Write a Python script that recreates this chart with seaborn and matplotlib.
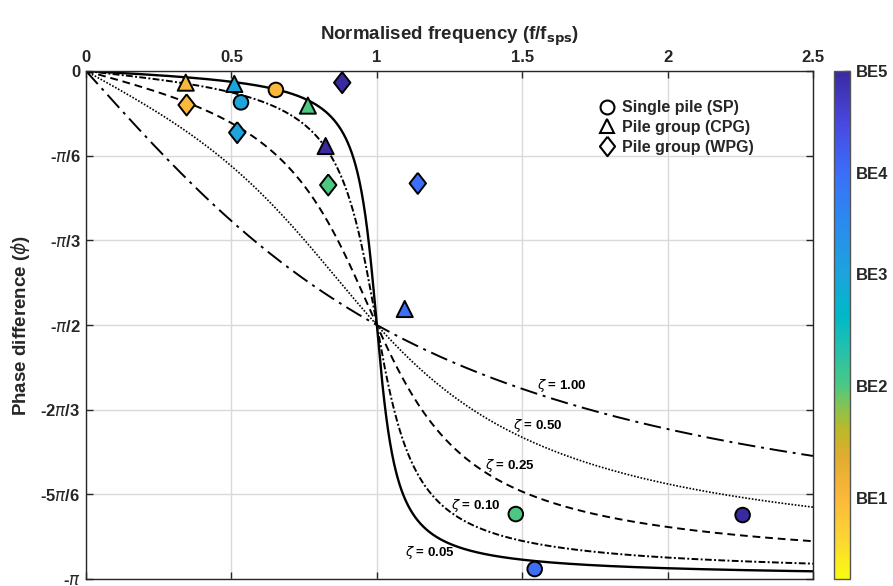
import numpy as np
import pandas as pd
import matplotlib
matplotlib.use("Agg")
import matplotlib.pyplot as plt
import seaborn as sns
from matplotlib.colors import LinearSegmentedColormap, Normalize
from matplotlib.cm import ScalarMappable
from matplotlib.lines import Line2D

# ---------------- data ----------------
zetas = [0.05, 0.10, 0.25, 0.50, 1.00]
zeta_labels = ["$\\zeta$ = 0.05", "$\\zeta$ = 0.10", "$\\zeta$ = 0.25", "$\\zeta$ = 0.50", "$\\zeta$ = 1.00"]
label_x = [1.097, 1.254, 1.372, 1.468, 1.55]
label_y = [-2.979, -2.684, -2.437, -2.19, -1.942]

sp_x = [0.653, 0.533, 1.478, 2.258, 1.543]
sp_y = [-0.117, -0.194, -2.740, -2.746, -3.080]
sp_be = ["BE1", "BE3", "BE2", "BE5", "BE4"]

cpg_x = [0.343, 0.510, 0.763, 0.824, 1.096]
cpg_y = [-0.072, -0.080, -0.214, -0.464, -1.472]
cpg_be = ["BE1", "BE3", "BE2", "BE5", "BE4"]

wpg_x = [0.346, 0.520, 0.881, 0.833, 1.141]
wpg_y = [-0.210, -0.381, -0.072, -0.705, -0.695]
wpg_be = ["BE1", "BE3", "BE5", "BE2", "BE4"]

be_names = ["BE1", "BE2", "BE3", "BE4", "BE5"]
be_levels = [0.16, 0.38, 0.60, 0.80, 1.00]

y_ticks = [0, -np.pi/6, -np.pi/3, -np.pi/2, -2*np.pi/3, -5*np.pi/6, -np.pi]
y_ticklabels = ["0", "-$\\pi$/6", "-$\\pi$/3", "-$\\pi$/2", "-2$\\pi$/3", "-5$\\pi$/6", "-$\\pi$"]
x_ticks = [0, 0.5, 1, 1.5, 2, 2.5]
x_ticklabels = ["0", "0.5", "1", "1.5", "2", "2.5"]

# ---------------- style ----------------
sns.set_theme(style="white")
plt.rcParams["font.family"] = ["Liberation Sans", "DejaVu Sans"]
plt.rcParams["mathtext.fontset"] = "dejavusans"
txtc = "#262626"

cmap = LinearSegmentedColormap.from_list("be", [
    (0.00, "#F9FB0E"), (0.08, "#FCD434"), (0.16, "#FBB83A"), (0.24, "#E0AC30"),
    (0.29, "#BDB828"), (0.33, "#8EC24C"), (0.38, "#4CC882"), (0.46, "#20C0B0"),
    (0.52, "#00B8C8"), (0.60, "#1CA4DC"), (0.70, "#2A8CF0"), (0.80, "#3C6EF8"),
    (0.90, "#4848E0"), (1.00, "#3A2AA0")])

fig = plt.figure(figsize=(8.93, 5.86), dpi=100)
ax = fig.add_axes([86/893, 1-579/586, (813-86)/893, (579-71)/586])
cax = fig.add_axes([834/893, 1-579/586, 16/893, (579-71)/586])

# curves
r = np.linspace(0, 2.5, 1500)
styles = ["-", (0, (3.5, 1.2, 1, 1.2)), (0, (4, 2.5)), (0, (1, 1)), (0, (9, 3, 1.5, 3))]
widths = [1.7, 1.4, 1.4, 1.2, 1.4]
rows = []
for z in zetas:
    phi = -np.arctan2(2*z*r, 1 - r**2)
    rows.append(pd.DataFrame({"r": r, "phi": phi, "zeta": z}))
curves = pd.concat(rows)
for z, ls, lw in zip(zetas, styles, widths):
    sns.lineplot(data=curves[curves.zeta == z], x="r", y="phi", ax=ax, color="black",
                 linestyle=ls, linewidth=lw, estimator=None, sort=False)

for lx, ly, lab in zip(label_x, label_y, zeta_labels):
    ax.text(lx, ly, lab, fontsize=9.5, fontweight="bold", color="black", va="center", ha="left")

# points
lvl = dict(zip(be_names, be_levels))
pts = pd.DataFrame({
    "x": sp_x + cpg_x + wpg_x,
    "y": sp_y + cpg_y + wpg_y,
    "be": [lvl[b] for b in sp_be + cpg_be + wpg_be],
    "type": ["SP"]*len(sp_x) + ["CPG"]*len(cpg_x) + ["WPG"]*len(wpg_x),
})
diamond = [(0, 1), (0.78, 0), (0, -1), (-0.78, 0), (0, 1)]
sizes = {"SP": 110, "CPG": 135, "WPG": 230}
markers = {"SP": "o", "CPG": "^", "WPG": diamond}
for t in ["SP", "CPG", "WPG"]:
    sub = pts[pts.type == t]
    sns.scatterplot(data=sub, x="x", y="y", hue="be", palette=cmap, hue_norm=(0, 1),
                    marker=markers[t], s=sizes[t], edgecolor="black", linewidth=1.4,
                    ax=ax, legend=False, zorder=5)

# legend
handles = [
    Line2D([], [], marker="o", ls="none", mfc="white", mec="black", mew=1.5, ms=10),
    Line2D([], [], marker="^", ls="none", mfc="white", mec="black", mew=1.5, ms=10.5),
    Line2D([], [], marker=diamond, ls="none", mfc="white", mec="black", mew=1.5, ms=14),
]
leg = ax.legend(handles, ["Single pile (SP)", "Pile group (CPG)", "Pile group (WPG)"],
                loc="upper left", bbox_to_anchor=(0.695, 0.955), frameon=False,
                prop={"weight": "bold", "size": 11.5}, handletextpad=0.35,
                labelspacing=0.3, borderaxespad=0, handlelength=1.2)

# axes formatting
ax.set_xlim(0, 2.5)
ax.set_ylim(-np.pi, 0)
ax.set_xticks(x_ticks)
ax.set_xticklabels(x_ticklabels)
ax.set_yticks(y_ticks)
ax.set_yticklabels(y_ticklabels)
ax.xaxis.tick_top()
ax.xaxis.set_label_position("top")
ax.tick_params(axis="both", which="both", direction="in", length=5, width=1, color=txtc,
               top=True, bottom=True, left=True, right=True, labelsize=12, labelcolor=txtc, pad=4)
for lab in ax.get_xticklabels() + ax.get_yticklabels():
    lab.set_fontweight("bold")
ax.grid(True, color="#d9d9d9", linewidth=1)
ax.set_axisbelow(True)
for s in ax.spines.values():
    s.set_color(txtc)
    s.set_linewidth(1)
ax.set_xlabel("Normalised frequency (f/f$_{\\mathbf{sps}}$)", fontsize=13.5, fontweight="bold",
              color=txtc, labelpad=8)
ax.set_ylabel("Phase difference ($\\phi$)", fontsize=13.5, fontweight="bold", color=txtc, labelpad=6)

# colorbar
sm = ScalarMappable(norm=Normalize(0, 1), cmap=cmap)
cb = fig.colorbar(sm, cax=cax)
cb.set_ticks(be_levels)
cb.set_ticklabels(be_names)
cax.tick_params(direction="in", length=4, width=1, color=txtc, labelsize=12, labelcolor=txtc, pad=4)
for lab in cax.get_yticklabels():
    lab.set_fontweight("bold")
cb.outline.set_edgecolor("#555555")
cb.outline.set_linewidth(1)

fig.savefig("out.png", dpi=100)
